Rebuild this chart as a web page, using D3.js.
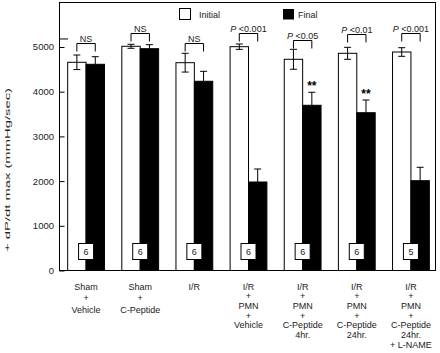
<!DOCTYPE html>
<html><head><meta charset="utf-8">
<script src="https://cdn.jsdelivr.net/npm/d3@7"></script>
<style>body{margin:0;background:#fff}svg{display:block;font-family:"Liberation Sans",Arial,sans-serif}</style>
</head><body><svg id="c" width="440" height="353"></svg>
<script>
const categories = [
  ["Sham","+","Vehicle"],
  ["Sham","+","C-Peptide"],
  ["I/R"],
  ["I/R","+","PMN","+","Vehicle"],
  ["I/R","+","PMN","+","C-Peptide","4hr."],
  ["I/R","+","PMN","+","C-Peptide","24hr."],
  ["I/R","+","PMN","+","C-Peptide","24hr.","+ L-NAME"]
];
const initialMean = [4658, 5016, 4649, 5007, 4725, 4859, 4888];
const initialErr  = [163, 45, 210, 60, 223, 134, 96];
const finalMean   = [4613, 4962, 4233, 1980, 3696, 3530, 2009];
const finalErr    = [170, 90, 223, 291, 291, 284, 300];
const nLabels     = ["6","6","6","6","6","6","5"];
const sigLabels   = ["NS","NS","NS","P <0.001","P <0.05","P <0.01","P <0.001"];
const bracketLevel= [5089, 5320, 5096, 5307, 5157, 5284, 5307];
const starred     = [false,false,false,false,true,true,false];
const yTicks      = [0,1000,2000,3000,4000,5000];
const seriesNames = ["Initial","Final"];

const svg = d3.select("#c");
const y = d3.scaleLinear().domain([0,5000]).range([270.5,47]);
const x = d3.scaleBand().domain(d3.range(categories.length)).range([59,438]).padding(0);
const bw = 18.4;
const cx = i => x(i) + x.bandwidth()/2;

// frame
svg.append("rect").attr("x",59.5).attr("y",2.5).attr("width",376).attr("height",268)
  .attr("fill","none").attr("stroke","#000").attr("stroke-width",1);

// y axis ticks (inward)
const yAxis = d3.axisRight(y).tickValues(yTicks).tickSize(5).tickFormat("");
const ga = svg.append("g").attr("transform","translate(59.5,0)").call(yAxis);
ga.select(".domain").remove();
ga.selectAll("line").attr("stroke","#000");
svg.append("g").selectAll("text").data(yTicks).join("text")
  .attr("x",54).attr("y",d=>y(d)+3.4).attr("text-anchor","end")
  .attr("font-size",9.5).attr("fill","#222").text(d=>d);
// extra mark on axis
svg.append("line").attr("x1",59).attr("x2",68).attr("y1",y(5180)).attr("y2",y(5180)).attr("stroke","#000");

// y label
svg.append("text").attr("transform","translate(9.5,170) rotate(-90)")
  .attr("text-anchor","middle").attr("font-size",7.5).attr("fill","#222")
  .attr("textLength",164).attr("lengthAdjust","spacingAndGlyphs")
  .text("+ dP/dt max (mmHg/sec)");

const gBars = svg.append("g");
categories.forEach((c,i)=>{
  const xc = cx(i);
  const specs = [
    {m:initialMean[i], e:initialErr[i], x0:xc-bw, fill:"#fff"},
    {m:finalMean[i], e:finalErr[i], x0:xc, fill:"#000"}
  ];
  specs.forEach(s=>{
    gBars.append("rect").attr("x",s.x0).attr("y",y(s.m)).attr("width",bw)
      .attr("height",y(0)-y(s.m)).attr("fill",s.fill).attr("stroke","#000").attr("stroke-width",1);
    const mx = s.x0+bw/2;
    const eb = gBars.append("g").attr("stroke","#000").attr("stroke-width",1);
    eb.append("line").attr("x1",mx).attr("x2",mx).attr("y1",y(s.m+s.e)).attr("y2",y(s.m-s.e));
    eb.append("line").attr("x1",mx-3.5).attr("x2",mx+3.5).attr("y1",y(s.m+s.e)).attr("y2",y(s.m+s.e));
    eb.append("line").attr("x1",mx-3.5).attr("x2",mx+3.5).attr("y1",y(s.m-s.e)).attr("y2",y(s.m-s.e));
  });
  // bracket
  const bt = Math.round(y(bracketLevel[i]))+0.5;
  const xl = xc-bw/2, xr = xc+bw/2;
  gBars.append("path").attr("d",`M${xl},${bt+8}V${bt}H${xr}V${bt+8}`)
    .attr("fill","none").attr("stroke","#000").attr("stroke-width",1);
  const t = gBars.append("text").attr("x",xc).attr("y",bt-2).attr("text-anchor","middle")
    .attr("font-size",9).attr("fill","#222");
  if (sigLabels[i].startsWith("P")) {
    t.append("tspan").attr("font-style","italic").text("P");
    t.append("tspan").text(" " + sigLabels[i].slice(2));
  } else t.text(sigLabels[i]);
  if (starred[i]) {
    gBars.append("text").attr("x",xc+bw/2).attr("y",y(finalMean[i]+finalErr[i])-2)
      .attr("text-anchor","middle").attr("font-size",12).attr("font-weight","bold").text("**");
  }
  // n box
  gBars.append("rect").attr("x",xc-7.5).attr("y",243.5).attr("width",15).attr("height",16)
    .attr("fill","#fff").attr("stroke","#000").attr("stroke-width",1);
  gBars.append("text").attr("x",xc).attr("y",254.5).attr("text-anchor","middle")
    .attr("font-size",9).attr("fill","#222").text(nLabels[i]);
  // x labels
  const lh = c.length <= 3 ? 11.7 : 9.7;
  c.forEach((l,k)=>{
    svg.append("text").attr("x",xc).attr("y",289.5+k*lh).attr("text-anchor","middle")
      .attr("font-size",9).attr("fill","#222").text(l);
  });
});

// legend
svg.append("rect").attr("x",179.5).attr("y",8.5).attr("width",11).attr("height",11)
  .attr("fill","#fff").attr("stroke","#000");
svg.append("text").attr("x",199).attr("y",18).attr("font-size",9).attr("fill","#222").text(seriesNames[0]);
svg.append("rect").attr("x",283).attr("y",9).attr("width",11).attr("height",10.5).attr("fill","#000");
svg.append("text").attr("x",298).attr("y",18).attr("font-size",9).attr("fill","#222").text(seriesNames[1]);
</script></body></html>
